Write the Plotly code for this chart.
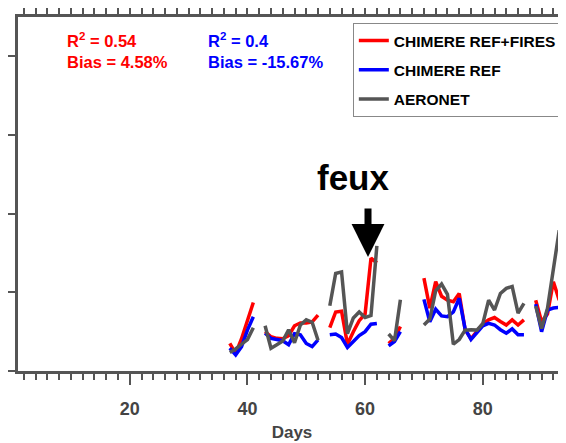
import plotly.graph_objects as go

# Day of year
days = list(range(37, 94))

# AOD-like values per day (None = no data)
ref_fires = [0.070, 0.045, 0.082, 0.125, 0.174, None,
             0.100, 0.087, 0.083, 0.082, 0.090, 0.115, 0.122, 0.122, 0.125, 0.142, None,
             0.110, 0.150, 0.152, 0.068, 0.100, 0.128, 0.145, 0.287, 0.275, None,
             0.070, 0.083, 0.113, None, None, None,
             0.236, 0.160, 0.227, 0.190, 0.180, 0.176, 0.197, 0.105, 0.082, 0.100,
             0.120, 0.130, 0.136, 0.126, 0.117, 0.130, 0.117, 0.130, None,
             0.180, 0.125, 0.145, 0.227, 0.180]
ref = [0.058, 0.041, 0.062, 0.104, 0.138, None,
       0.096, 0.083, 0.080, 0.077, 0.067, 0.095, 0.092, 0.070, 0.062, 0.079, None,
       0.092, 0.094, 0.085, 0.060, 0.075, 0.090, 0.100, 0.119, 0.121, None,
       0.064, 0.075, 0.100, None, None, None,
       0.182, 0.125, 0.157, 0.140, 0.138, 0.150, 0.185, 0.107, 0.080, 0.097,
       0.115, 0.121, 0.117, 0.105, 0.096, 0.107, 0.092, 0.092, None,
       0.170, 0.100, 0.155, 0.160, 0.162]
aeronet = [0.047, 0.056, 0.068, 0.080, 0.110, None,
           0.115, 0.058, 0.067, 0.076, 0.105, 0.072, 0.117, 0.130, 0.124, 0.078, None,
           0.166, 0.248, 0.252, 0.095, 0.135, 0.150, 0.136, 0.141, 0.318, None,
           0.094, 0.077, 0.181, None, None, None,
           0.117, 0.132, 0.204, 0.221, 0.195, 0.068, 0.080, 0.104, 0.105, 0.104,
           0.120, 0.180, 0.155, 0.197, 0.210, 0.215, 0.147, 0.172, None,
           0.165, 0.108, 0.159, 0.257, 0.358]

series_names = ["CHIMERE REF+FIRES", "CHIMERE REF", "AERONET"]
series_colors = ["#ff0000", "#0000ff", "#555555"]
x_tickvals = [20, 40, 60, 80]

BOLD = "Liberation Sans, Arial, sans-serif"

fig = go.Figure()
for name, vals, col in zip(series_names, [ref_fires, ref, aeronet], series_colors):
    fig.add_trace(go.Scatter(
        x=days, y=vals, mode="lines", name=name, legendgroup=name,
        line=dict(color=col, width=3.5), connectgaps=False,
    ))

axcol = "#555555"
# the page body adds an 8px offset, so the figure is 8px smaller than the window
fig.update_layout(
    width=558, height=435,
    margin=dict(l=10, r=0, t=9, b=72, autoexpand=False),
    paper_bgcolor="white", plot_bgcolor="white",
    showlegend=True,
    legend=dict(
        x=0.611, y=0.983, xanchor="left", yanchor="top",
        bgcolor="white", bordercolor="#888888", borderwidth=1,
        font=dict(family=BOLD, size=15.5, color="black", weight="bold"),
        tracegroupgap=6, itemwidth=30,
    ),
    xaxis=dict(
        range=[1, 94.15], tickvals=x_tickvals, ticktext=[str(v) for v in x_tickvals],
        showline=True, linecolor=axcol, linewidth=2.5, mirror="ticks",
        ticks="outside", ticklen=11, tickwidth=2, tickcolor=axcol,
        minor=dict(dtick=2, tick0=0, ticks="outside", ticklen=6, tickwidth=1.5, tickcolor=axcol, showgrid=False),
        showgrid=False, zeroline=False,
        tickfont=dict(family=BOLD, size=18, color="#444444", weight="bold"),
        ticklabelstandoff=9,
        title=dict(text="Days", font=dict(family=BOLD, size=17, color="#444444", weight="bold"), standoff=8),
    ),
    yaxis=dict(
        range=[0, 0.9], tick0=0, dtick=0.2,
        showline=True, linecolor=axcol, linewidth=2.5, mirror=False,
        ticks="outside", ticklen=10, tickwidth=2, tickcolor=axcol,
        showticklabels=False, showgrid=False, zeroline=False,
    ),
)

ann_font_r = dict(family=BOLD, size=16.5, color="#ff0000", weight="bold")
ann_font_b = dict(family=BOLD, size=16.5, color="#0000ff", weight="bold")
fig.add_annotation(xref="paper", yref="paper", x=0.0858, y=0.968, xanchor="left", yanchor="top",
                   align="left", text="R<sup>2</sup> = 0.54<br>Bias = 4.58%", showarrow=False, font=ann_font_r)
fig.add_annotation(xref="paper", yref="paper", x=0.343, y=0.968, xanchor="left", yanchor="top",
                   align="left", text="R<sup>2</sup> = 0.4<br>Bias = -15.67%", showarrow=False, font=ann_font_b)

# "feux" label and arrow
fig.add_annotation(xref="paper", yref="paper", x=0.613, y=0.548, xanchor="center", yanchor="middle",
                   text="feux", showarrow=False,
                   font=dict(family=BOLD, size=35, color="black", weight="bold"))
fig.add_annotation(xref="paper", yref="paper", x=0.6387, y=0.322, text="",
                   showarrow=True, ax=0, ay=-50, arrowhead=2, arrowwidth=7, arrowsize=0.94,
                   arrowcolor="black")

fig.write_html("out.html")
